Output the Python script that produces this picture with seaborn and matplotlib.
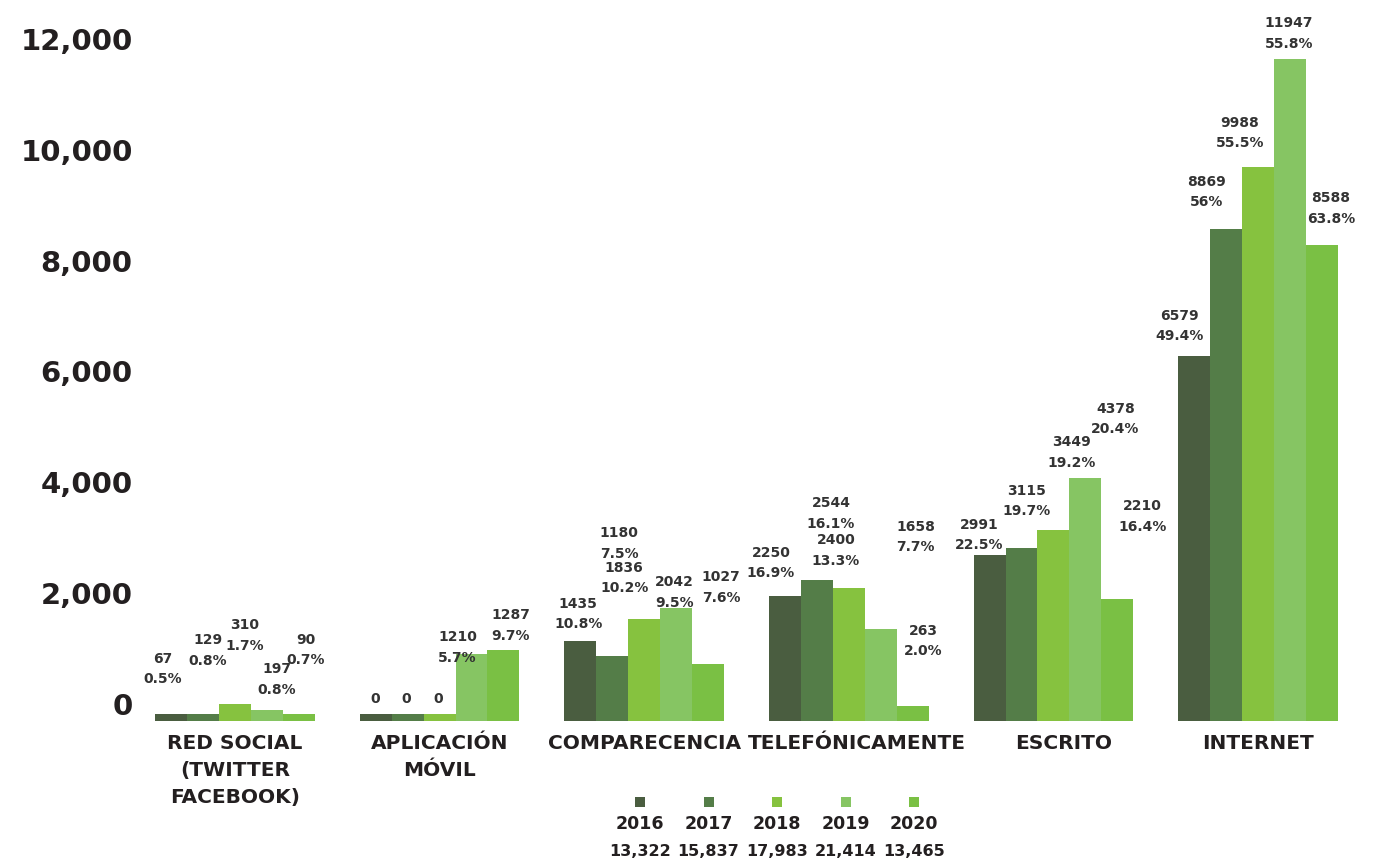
import matplotlib.pyplot as plt
import matplotlib.patches as mpatches
import pandas as pd
import seaborn as sns

# Datos: solicitudes por canal de ingreso y año
canales = [
    "RED SOCIAL\n(TWITTER\nFACEBOOK)",
    "APLICACIÓN\nMÓVIL",
    "COMPARECENCIA",
    "TELEFÓNICAMENTE",
    "ESCRITO",
    "INTERNET",
]
anios = ["2016", "2017", "2018", "2019", "2020"]
totales = ["13,322", "15,837", "17,983", "21,414", "13,465"]

valores_2016 = [67, 0, 1435, 2250, 2991, 6579]
valores_2017 = [129, 0, 1180, 2544, 3115, 8869]
valores_2018 = [310, 0, 1836, 2400, 3449, 9988]
valores_2019 = [197, 1210, 2042, 1658, 4378, 11947]
valores_2020 = [90, 1287, 1027, 263, 2210, 8588]

pct_2016 = ["0.5%", None, "10.8%", "16.9%", "22.5%", "49.4%"]
pct_2017 = ["0.8%", None, "7.5%", "16.1%", "19.7%", "56%"]
pct_2018 = ["1.7%", None, "10.2%", "13.3%", "19.2%", "55.5%"]
pct_2019 = ["0.8%", "5.7%", "9.5%", "7.7%", "20.4%", "55.8%"]
pct_2020 = ["0.7%", "9.7%", "7.6%", "2.0%", "16.4%", "63.8%"]

valores = [valores_2016, valores_2017, valores_2018, valores_2019, valores_2020]
porcentajes = [pct_2016, pct_2017, pct_2018, pct_2019, pct_2020]

colores = ["#4a5d40", "#547d48", "#86c23f", "#86c563", "#7ac044"]
TXT = "#231f20"

# desplazamiento de cada etiqueta (px) respecto a la parte alta de su barra
offsets = [
    [(-8, 28), (-1, 8), (-2, 10), (-14, 16), (-10, 3), (-15, 13)],
    [(5, 46), (-1, 8), (7, 95), (14, 49), (5, 30), (-20, 20)],
    [(10, 51), (-1, 8), (-20, 24), (-13, 20), (18, 60), (-18, 17)],
    [(10, 13), (-14, -11), (-2, -2), (35, 75), (30, 42), (-1, 8)],
    [(7, 47), (7, 7), (13, 59), (11, 48), (25, 65), (9, 19)],
]

MIN_VISIBLE = 120  # las barras en cero se dibujan como una franja fina

rows = []
for anio, vals in zip(anios, valores):
    for canal, v in zip(canales, vals):
        rows.append({"canal": canal, "anio": anio, "valor": v,
                     "altura": max(v, MIN_VISIBLE)})
df = pd.DataFrame(rows)

sns.set_style("white")
plt.rcParams["font.family"] = ["DejaVu Sans"]

fig = plt.figure(figsize=(13.76, 8.63), dpi=100)
W, H = 1376, 863
ax = fig.add_axes([132.7 / W, 142 / H, 1227.6 / W, 698.3 / H])

sns.barplot(
    data=df, x="canal", y="altura", hue="anio",
    order=canales, hue_order=anios, palette=colores,
    saturation=1, width=0.78, gap=0, legend=False, ax=ax, linewidth=0,
)

ax.set_xlim(-0.5, 5.5)
ax.set_ylim(0, 12600)
ax.set_xlabel("")
ax.set_ylabel("")
for s in ax.spines.values():
    s.set_visible(False)

# las cifras del eje quedan ~17 px por encima de su valor, como en el original
px_per_unit = 698.3 / 12600
yt = list(range(0, 12001, 2000))
ax.set_yticks([t + 17 / px_per_unit for t in yt])
ax.set_yticklabels([f"{t:,}" for t in yt], fontsize=21, fontweight="bold", color=TXT)
ax.tick_params(axis="y", length=0, pad=0)

ax.set_xticks([0, 1, 2, 3.04, 4.05, 5])
ax.set_xticklabels(canales, fontsize=14.5, fontweight="bold", color=TXT, linespacing=1.55)
ax.tick_params(axis="x", length=0, pad=9)

# etiquetas de valor y porcentaje
for j, cont in enumerate(ax.containers):
    for i, bar in enumerate(cont):
        v = valores[j][i]
        p = porcentajes[j][i]
        txt = f"{v}" if p is None else f"{v}\n{p}"
        dx, dy = offsets[j][i]
        ax.annotate(
            txt, (bar.get_x() + bar.get_width() / 2, bar.get_height()),
            xytext=(dx * 0.72, dy * 0.72), textcoords="offset points",
            ha="center", va="bottom", fontsize=10, fontweight="bold",
            color="#333333", linespacing=1.6,
        )

# leyenda: cuadro de color, año y total
x0, step = 640, 68.5
for k, (anio, tot, col) in enumerate(zip(anios, totales, colores)):
    xc = x0 + k * step
    fig.add_artist(mpatches.Rectangle(
        ((xc - 5) / W, 1 - 807 / H), 10 / W, 10 / H,
        transform=fig.transFigure, color=col, lw=0))
    fig.text(xc / W, 1 - 824 / H, anio, ha="center", va="center",
             fontsize=12.5, fontweight="bold", color=TXT)
    fig.text(xc / W, 1 - 851 / H, tot, ha="center", va="center",
             fontsize=11.5, fontweight="bold", color=TXT)

fig.savefig("out.png", dpi=100)
